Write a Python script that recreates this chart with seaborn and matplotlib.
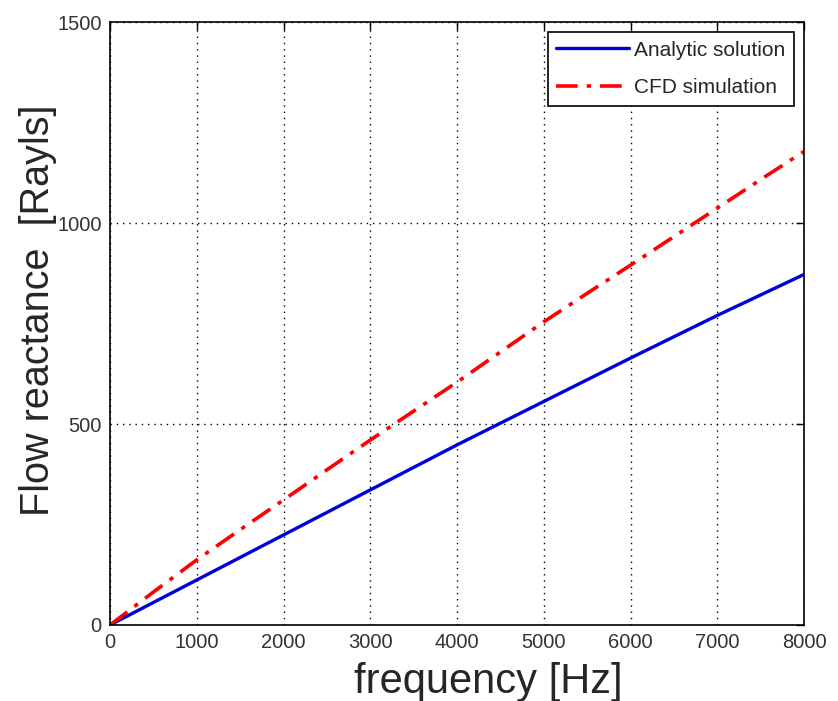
import matplotlib
matplotlib.use("Agg")
import matplotlib.pyplot as plt
from matplotlib import font_manager
import seaborn as sns
import pandas as pd

freq = [0, 500, 1000, 1500, 2000, 2500, 3000, 3500, 4000, 4500, 5000, 5500, 6000, 6500, 7000, 7500, 8000]
analytic = [0, 56, 112, 168, 224, 280, 336, 392, 448, 502, 556, 610, 664, 717, 770, 821, 872]
cfd = [0, 82, 162, 237, 311, 386, 460, 532, 604, 679, 754, 825, 895, 966, 1037, 1108, 1178]

sns.set_style("white")
plt.rcParams['font.family'] = ['Liberation Sans', 'DejaVu Sans']

names = {f.name for f in font_manager.fontManager.ttflist}
narrow = 'Liberation Sans Narrow' if 'Liberation Sans Narrow' in names else 'Liberation Sans'
tick_size = 16 if narrow == 'Liberation Sans Narrow' else 14.5

fig = plt.figure(figsize=(8.38, 7.01), dpi=100)
ax = fig.add_axes([110/838, 1-625/701, (804-110)/838, (625-22)/701])

df = pd.DataFrame({"f": freq, "a": analytic, "c": cfd})
sns.lineplot(data=df, x="f", y="a", ax=ax, color="#0000dd", lw=2.4, label="Analytic solution")
sns.lineplot(data=df, x="f", y="c", ax=ax, color="#ff0000", lw=2.6, label="CFD simulation")
ax.lines[1].set_linestyle((0, (6, 2.5, 1.2, 2.5)))

ax.set_xlim(0, 8000)
ax.set_ylim(0, 1500)
ax.set_xticks(range(0, 8001, 1000))
ax.set_yticks([0, 500, 1000, 1500])
ax.grid(True, color="black", linestyle=(0, (1, 3.5)), linewidth=1.0)
ax.tick_params(direction="in", length=6, width=1, labelsize=tick_size, colors="black", labelcolor="#333333",
               top=True, right=True, pad=6)
for lab in ax.get_xticklabels() + ax.get_yticklabels():
    lab.set_fontfamily([narrow, 'DejaVu Sans'])
for s in ax.spines.values():
    s.set_color("black")
    s.set_linewidth(1.2)

ax.set_xlabel("frequency [Hz]", fontsize=30)
ax.xaxis.label.set_va("baseline")
ax.xaxis.set_label_coords(0.545, -(693 - 625) / 603)
ax.set_ylabel("Flow reactance  [Rayls]", fontsize=28.5)
ax.yaxis.set_label_coords(-(110 - 57) / 694, (625 - 310) / 603)

leg = ax.legend(loc="upper right", fontsize=15, frameon=True, fancybox=False,
                edgecolor="black", handlelength=3.5, handletextpad=0.25, labelspacing=0.9,
                borderaxespad=0.5, framealpha=1)
leg.get_frame().set_linewidth(1.2)
for t in leg.get_texts():
    t.set_fontfamily([narrow, 'DejaVu Sans'])
    if narrow == 'Liberation Sans Narrow':
        t.set_fontsize(17)

fig.savefig("out.png", dpi=100)
